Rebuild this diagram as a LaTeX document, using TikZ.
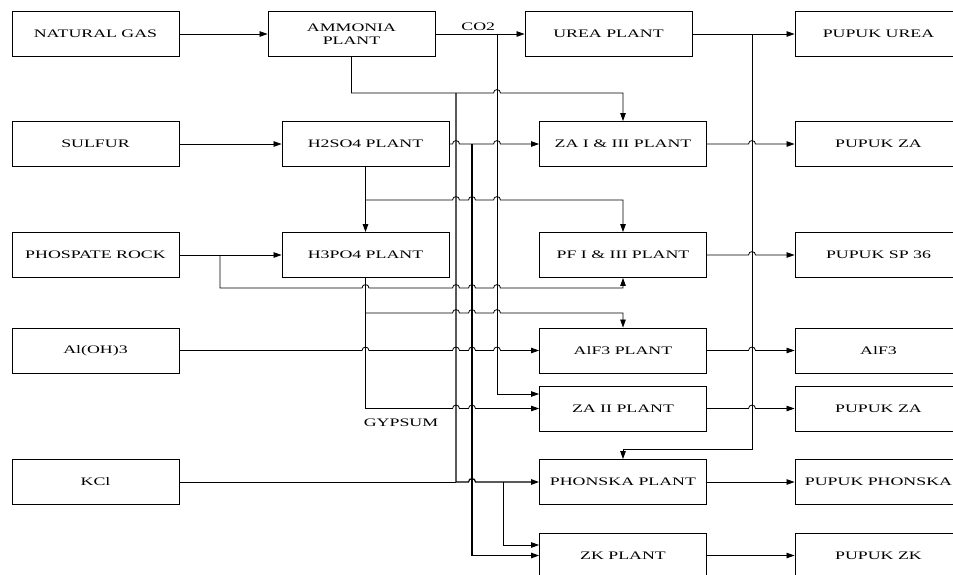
\documentclass[tikz,border=0pt]{standalone}
\usepackage{fontspec}
\setmainfont{Liberation Serif}[FakeStretch=1.55]
\usetikzlibrary{arrows.meta}

% little bridge where a horizontal line jumps a vertical one
\newcommand{\hop}[2]{-- (#1-3.5,#2) .. controls (#1-3.5,#2-4.5) and (#1+3.5,#2-4.5) .. (#1+3.5,#2)}

\begin{document}
\begin{tikzpicture}[x=1pt, y=-1pt,
  box/.style={draw, line width=0.9pt, minimum width=167pt, minimum height=45pt,
    inner sep=1pt, align=center, font=\fontsize{11.5}{12.5}\selectfont},
  flow/.style={line width=0.8pt, -{Triangle[length=8pt,width=5.5pt]}},
  pipe/.style={line width=0.8pt},
  bus/.style={line width=1.2pt},
  lbl/.style={font=\fontsize{11.5}{12.5}\selectfont}
]
  \useasboundingbox (0,0) rectangle (953,574);
  \clip (0,0) rectangle (953,574);
  \fill[white] (0,0) rectangle (953,574);

  % raw materials
  \node[box] (gas) at (95.5,34) {NATURAL GAS};
  \node[box] (sulfur) at (95.5,144) {SULFUR};
  \node[box] (rock) at (95.5,255) {PHOSPATE ROCK};
  \node[box] (aloh) at (95.5,350.5) {Al(OH)3};
  \node[box] (kcl) at (95.5,482) {KCl};

  % base plants
  \node[box] (nh3) at (351.5,34) {AMMONIA\\PLANT};
  \node[box] (sa) at (365.5,144) {H2SO4 PLANT};
  \node[box] (pa) at (365.5,255) {H3PO4 PLANT};

  % fertilizer plants
  \node[box] (urea) at (608.5,34) {UREA PLANT};
  \node[box] (zaa) at (623,144) {ZA I \& III PLANT};
  \node[box] (pf) at (623,255) {PF I \& III PLANT};
  \node[box] (alf) at (623,350.5) {AlF3 PLANT};
  \node[box] (zab) at (623,408.5) {ZA II PLANT};
  \node[box] (phon) at (623,482) {PHONSKA PLANT};
  \node[box] (zk) at (623,555.5) {ZK PLANT};

  % products
  \node[box] (purea) at (878.5,34) {PUPUK UREA};
  \node[box] (pzaa) at (878.5,144) {PUPUK ZA};
  \node[box] (psp) at (878.5,255) {PUPUK SP 36};
  \node[box] (palf) at (878.5,350.5) {AlF3};
  \node[box] (pzab) at (878.5,408.5) {PUPUK ZA};
  \node[box] (pphon) at (878.5,482) {PUPUK PHONSKA};
  \node[box] (pzk) at (878.5,555.5) {PUPUK ZK};

  \node[lbl] (gyp) at (401,423) {GYPSUM};

  % feeds
  \draw[flow] (gas) -- (nh3);
  \draw[flow] (sulfur) -- (sa);
  \draw[flow] (rock) -- (pa);
  \draw[flow] (nh3) -- node[lbl, above, pos=0.48] (co2) {CO2} (urea);
  \draw[flow] (497,34) |- ([yshift=14.5pt]zab.west);

  % ammonia line
  \draw[flow] (nh3.south) -- (351.5,93) \hop{497}{93} -- (623,93) -- (zaa.north);
  \draw[pipe] (kcl) -- (456,482);
  \draw[flow, bus] (456,93) -- (456,482) \hop{472}{482} -- (phon);
  \draw[flow] (503,482) |- ([yshift=10.5pt]zk.west);

  % sulfuric acid
  \draw[flow] (sa) \hop{456}{144} \hop{497}{144} -- (zaa);
  \draw[flow, bus] (472,144) |- (zk);
  \draw[flow, bus] (sa) -- (pa);
  \draw[flow] (365.5,200) \hop{456}{200} \hop{472}{200} \hop{497}{200} -- (623,200) -- (pf.north);

  % phosphate rock branch
  \draw[flow] (220,255) -- (220,288) \hop{365.5}{288} \hop{456}{288} \hop{472}{288} \hop{497}{288} -- (623,288) -- (pf.south);

  % phosphoric acid and gypsum
  \draw[flow] (pa.south) -- (365.5,408.5) \hop{456}{408.5} \hop{472}{408.5} -- (zab);
  \draw[flow] (365.5,313) \hop{456}{313} \hop{472}{313} \hop{497}{313} -- (623,313) -- (alf.north);
  \draw[flow] (aloh) \hop{365.5}{350.5} \hop{456}{350.5} \hop{472}{350.5} \hop{497}{350.5} -- (alf);

  % products
  \draw[flow] (urea) -- (purea);
  \draw[flow] (752,34) -- (752,449) -- (623,449) -- (phon.north);
  \draw[flow] (zaa) \hop{752}{144} -- (pzaa);
  \draw[flow] (pf) \hop{752}{255} -- (psp);
  \draw[flow] (alf) \hop{752}{350.5} -- (palf);
  \draw[flow] (zab) \hop{752}{408.5} -- (pzab);
  \draw[flow] (phon) -- (pphon);
  \draw[flow] (zk) -- (pzk);
\end{tikzpicture}
\end{document}
